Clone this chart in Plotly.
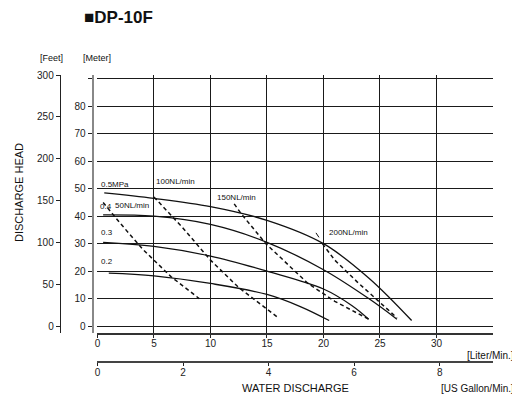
"""DP-10F pump performance chart: discharge head vs water discharge."""

import plotly.graph_objects as go

LPM_PER_GPM = 3.785
FT_PER_M = 3.2808

# Air pressure curves (solid): flow in L/min, head in m
p05_lpm = [0.6, 5, 10, 15, 20, 24, 27.8]
p05_m = [48.5, 46.5, 43.5, 38.5, 30, 17.5, 2]
p04_lpm = [0.5, 5, 10, 15, 20, 24, 26.5]
p04_m = [40.5, 40, 37, 30.5, 20.5, 10, 2.5]
p03_lpm = [0.5, 5, 10, 15, 20, 22.5, 24]
p03_m = [30.5, 29, 25.5, 20, 13.5, 7.5, 2.5]
p02_lpm = [1, 5, 10, 15, 18, 20.5]
p02_m = [19.3, 18.3, 15.5, 11.5, 7, 2]

# Air consumption curves (dashed)
n50_lpm = [0.5, 2, 4, 6.5, 9]
n50_m = [45, 37.5, 28, 18, 10]
n100_lpm = [5, 7.5, 10, 12.5, 16]
n100_m = [47, 36, 24, 14, 3]
n150_lpm = [12.1, 12.7, 14.9, 18.6, 21, 24]
n150_m = [44.5, 41, 30, 15.6, 9, 2.5]
n200_lpm = [19.9, 21, 23, 25, 26.5]
n200_m = [30, 24, 16, 8.5, 3]

lpm_ticks = [0, 5, 10, 15, 20, 25, 30]
gpm_ticks = [0, 2, 4, 6, 8]
m_ticks = [0, 10, 20, 30, 40, 50, 60, 70, 80, 90]
m_ticktext = ["0", "10", "20", "30", "40", "50", "60", "70", "80", ""]
ft_ticks = [0, 50, 100, 150, 200, 250, 300]

M_RANGE = [-2.54, 300 / FT_PER_M]
LPM_RANGE = [0, 35]

# The page body has an 8px margin, so the figure is drawn 8px in from the window corner.
PAGE_OFF = 8
FIG_W, FIG_H = 520 - PAGE_OFF, 400 - PAGE_OFF
M_L, M_R, M_T, M_B = 2, 27, 67, 10
FONT = "Liberation Sans Narrow, Arial Narrow, Liberation Sans, Arial"


def px(x):
    """Window pixel x -> paper x."""
    return (x - PAGE_OFF - M_L) / (FIG_W - M_L - M_R)


def py(y):
    """Window pixel y -> paper y."""
    return (FIG_H - M_B - (y - PAGE_OFF)) / (FIG_H - M_T - M_B)


fig = go.Figure()

for xs, ys in [(p05_lpm, p05_m), (p04_lpm, p04_m), (p03_lpm, p03_m), (p02_lpm, p02_m)]:
    fig.add_trace(go.Scatter(x=xs, y=ys, mode="lines", line=dict(color="#111", width=1.3),
                             line_shape="spline", hoverinfo="skip"))

for xs, ys in [(n50_lpm, n50_m), (n100_lpm, n100_m), (n150_lpm, n150_m), (n200_lpm, n200_m)]:
    fig.add_trace(go.Scatter(x=xs, y=ys, mode="lines",
                             line=dict(color="#111", width=1.5, dash="4px,3px"),
                             hoverinfo="skip"))

# Same top curve in US units, invisible, so the secondary axes get drawn
fig.add_trace(go.Scatter(
    x=[v / LPM_PER_GPM for v in p05_lpm], y=[v * FT_PER_M for v in p05_m],
    xaxis="x2", yaxis="y2", mode="lines", line=dict(width=0), opacity=0,
    hoverinfo="skip",
))

tick_font = dict(family=FONT, size=10, color="#222")

fig.update_layout(
    width=FIG_W, height=FIG_H,
    margin=dict(l=M_L, r=M_R, t=M_T, b=M_B),
    plot_bgcolor="white", paper_bgcolor="white",
    showlegend=False,
    font=dict(family=FONT, color="#111"),
    xaxis=dict(
        domain=[px(95), 1], range=LPM_RANGE, anchor="y",
        tickvals=lpm_ticks, ticks="outside", ticklen=3, tickcolor="#222",
        showline=True, linecolor="#333", linewidth=1.5,
        showgrid=True, gridcolor="#1a1a1a", gridwidth=1.1, zeroline=False,
        tickfont=tick_font, ticklabelstandoff=-3,
    ),
    xaxis2=dict(
        overlaying="x", range=[v / LPM_PER_GPM for v in LPM_RANGE],
        anchor="free", position=py(362), side="bottom",
        tickvals=gpm_ticks, ticks="outside", ticklen=3, tickcolor="#222",
        showline=True, linecolor="#444", linewidth=1.5,
        showgrid=False, zeroline=False, tickfont=tick_font, ticklabelstandoff=-2,
    ),
    yaxis=dict(
        domain=[py(333), 1], range=M_RANGE, anchor="free", position=px(90),
        tickvals=m_ticks, ticktext=m_ticktext,
        ticks="outside", ticklen=4, tickcolor="#222",
        showline=True, linecolor="#888", linewidth=2,
        showgrid=True, gridcolor="#1a1a1a", gridwidth=1.1, zeroline=False,
        tickfont=tick_font,
    ),
    yaxis2=dict(
        overlaying="y", range=[v * FT_PER_M for v in M_RANGE],
        anchor="free", position=px(57), side="left",
        tickvals=ft_ticks, ticks="outside", ticklen=4, tickcolor="#222",
        showline=True, linecolor="#222", linewidth=1,
        showgrid=False, zeroline=False, tickfont=tick_font,
    ),
)

# Frame text (window pixel positions)
paper_notes = [
    ("<b>■DP-10F</b>", 79, 18, "left", 17, 0),
    ("[Feet]", 35, 58, "left", 9, 0),
    ("[Meter]", 78, 58, "left", 9, 0),
    ("DISCHARGE HEAD", 16, 192, "center", 11, -90),
    ("[Liter/Min.]", 516, 355, "right", 10, 0),
    ("WATER DISCHARGE", 294, 388, "center", 11, 0),
    ("[US Gallon/Min.]", 516, 388, "right", 10, 0),
]
for text, x, y, anchor, size, angle in paper_notes:
    fig.add_annotation(text=text, xref="paper", yref="paper", x=px(x), y=py(y),
                       xanchor=anchor, yanchor="middle", showarrow=False,
                       textangle=angle, font=dict(family=FONT, size=size, color="#111"))

# Curve labels, placed in data units
curve_notes = [
    ("0.5MPa", 0.1, 51.5),
    ("100NL/min", 5.0, 52.5),
    ("0.4", 0.05, 43.6),
    ("50NL/min", 1.4, 43.8),
    ("0.3", 0.1, 34),
    ("0.2", 0.1, 23.5),
    ("150NL/min", 10.4, 46.8),
    ("200NL/min", 20.3, 34),
]
for text, x, y in curve_notes:
    fig.add_annotation(text=text, x=x, y=y, xref="x", yref="y", xanchor="left",
                       yanchor="middle", showarrow=False,
                       font=dict(family=FONT, size=8, color="#111"))

fig.add_annotation(x=19.6, y=32.3, xref="x", yref="y", ax=-4, ay=-6, text="",
                   showarrow=True, arrowhead=0, arrowwidth=1, arrowcolor="#111")

fig.write_html("out.html")
